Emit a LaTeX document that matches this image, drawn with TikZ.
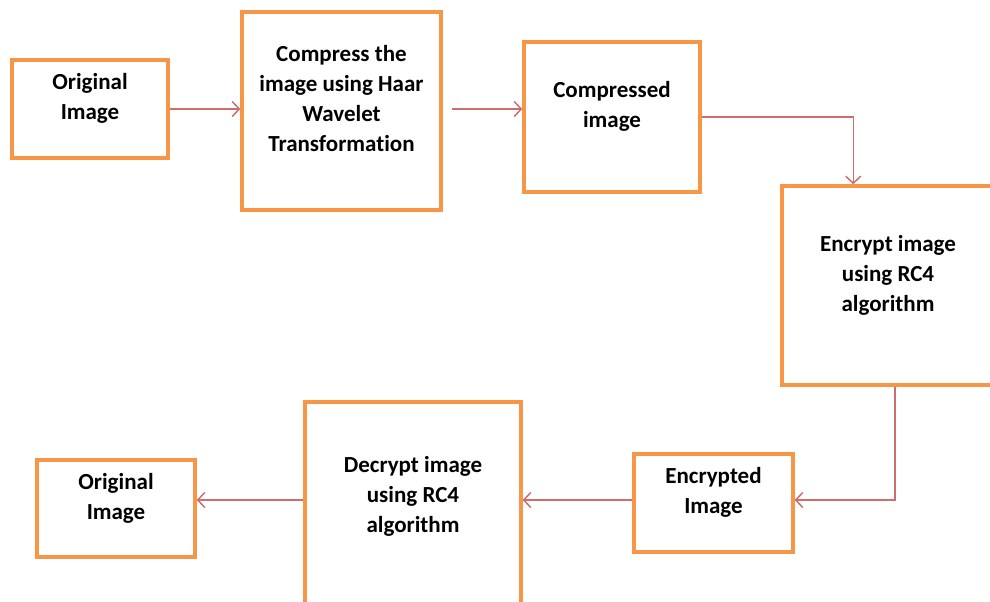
\documentclass[tikz,border=0pt]{standalone}
\usepackage{fontspec}
\setmainfont{Carlito}[Ligatures=NoCommon]
\usepackage{xcolor}
\usetikzlibrary{arrows.meta}
\definecolor{boxorange}{HTML}{F79646}
\definecolor{flowred}{RGB}{205,110,110}

\begin{document}
\begin{tikzpicture}[
			     x=1pt, y=-1pt,
			     >={Straight Barb[length=7pt,width=15pt]},
			     stepbox/.style={draw=boxorange, line width=3.5pt, fill=white, inner sep=0pt,
			       align=center, font=\bfseries\fontsize{23}{30}\selectfont, text depth=25pt},
			     flow/.style={->, draw=flowred, line width=1.5pt}
			     ]
\useasboundingbox (0,0) rectangle (990,602);
% top row
\node[stepbox, minimum width=156pt, minimum height=98pt]  (orig)   at (90,109)    {Original\\Image};
\node[stepbox, minimum width=199pt, minimum height=198pt] (haar)   at (341.5,111) {Compress the\\image using Haar\\Wavelet\\Transformation};
\node[stepbox, minimum width=176pt, minimum height=150pt] (comp)   at (612,117)   {Compressed\\image};
\node[stepbox, minimum width=212pt, minimum height=199pt] (enc)    at (888,285.5) {Encrypt image\\using RC4\\algorithm};
% bottom row
\node[stepbox, minimum width=159pt, minimum height=98pt]  (encimg) at (713.5,503) {Encrypted\\Image};
\node[stepbox, minimum width=216pt, minimum height=210pt] (dec)    at (413,507)   {Decrypt image\\using RC4\\algorithm};
\node[stepbox, minimum width=158pt, minimum height=97pt]  (orig2)  at (116,508.5) {Original\\Image};

\draw[flow] (orig.east) -- (orig.east -| haar.west);
\draw[flow, shorten <=9pt] (haar.east |- orig.east) -- (orig.east -| comp.west);
\draw[flow] (comp.east) -| ([xshift=73pt]enc.north west);
\draw[flow] ([xshift=7pt]enc.south) |- ([yshift=3pt]encimg.east);
\draw[flow] ([yshift=3pt]encimg.west) -- ([yshift=3pt]encimg.west -| dec.east);
\draw[flow] ([yshift=3pt]encimg.west -| dec.west) -- ([yshift=3pt]encimg.west -| orig2.east);
\end{tikzpicture}
\end{document}
